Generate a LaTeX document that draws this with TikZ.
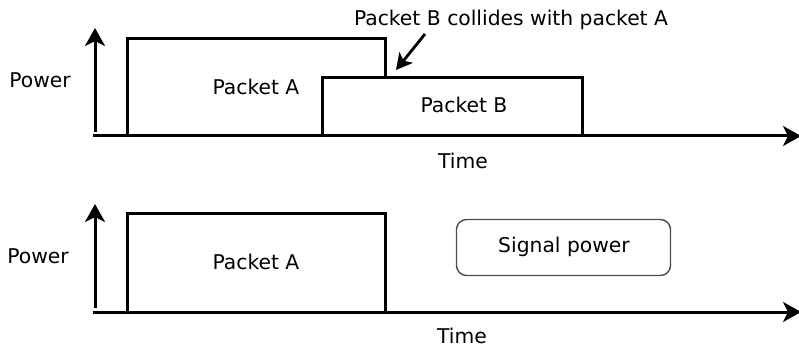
\documentclass[tikz,border=0pt]{standalone}
\usepackage{fontspec}
\setmainfont{DejaVu Sans}
\usetikzlibrary{arrows.meta}
\begin{document}
\begin{tikzpicture}[x=1pt,y=-1pt,
  lbl/.style={inner sep=0pt,font=\fontsize{20.3}{24}\selectfont},
  pkt/.style={draw,line width=3pt,inner sep=0pt},
  axis/.style={line width=3pt,-{Stealth[length=18pt,width=20pt,inset=5pt]}},
  arr/.style={line width=2.8pt,-{Stealth[length=16pt,width=17pt,inset=4pt]}}]
\useasboundingbox (0,0) rectangle (799,347);
% top panel
\coordinate (ya1) at (95,132);
\coordinate (yb1) at (95,28);
\coordinate (xa1) at (93,136);
\coordinate (xb1) at (801,136);
\draw[axis] (ya1) -- (yb1);
\draw[axis] (xa1) -- (xb1);
\draw[pkt] (127,136) -- (127,39) -- (385,39) -- (385,78);
\draw[pkt] (322,136) -- (322,78) -- (582,78) -- (582,136);
\node[lbl] (pa1) at (256,87) {Packet A};
\node[lbl] (pb1) at (464,105) {Packet B};
\node[lbl] (pw1) at (40,80) {Power};
\node[lbl] (t1) at (463,161) {Time};
\node[lbl] (col) at (511,20) {Packet B collides with packet A};
\coordinate (cs) at (425,34);
\coordinate (ce) at (396,70);
\draw[arr] (cs) -- (ce);
% bottom panel
\coordinate (ya2) at (95,308);
\coordinate (yb2) at (95,204);
\coordinate (xa2) at (93,312);
\coordinate (xb2) at (801,312);
\draw[axis] (ya2) -- (yb2);
\draw[axis] (xa2) -- (xb2);
\draw[pkt] (127,312) -- (127,213) -- (385,213) -- (385,312);
\node[lbl] (pa2) at (256,262) {Packet A};
\node[lbl] (pw2) at (38,256) {Power};
\node[lbl] (t2) at (462,335.5) {Time};
\node[draw=black!70,line width=1.4pt,rounded corners=10pt,minimum width=214pt,minimum height=56pt,lbl] (sp) at (563.5,247.5) {};
\node[lbl] at (564,247) {Signal power};
\end{tikzpicture}
\end{document}
